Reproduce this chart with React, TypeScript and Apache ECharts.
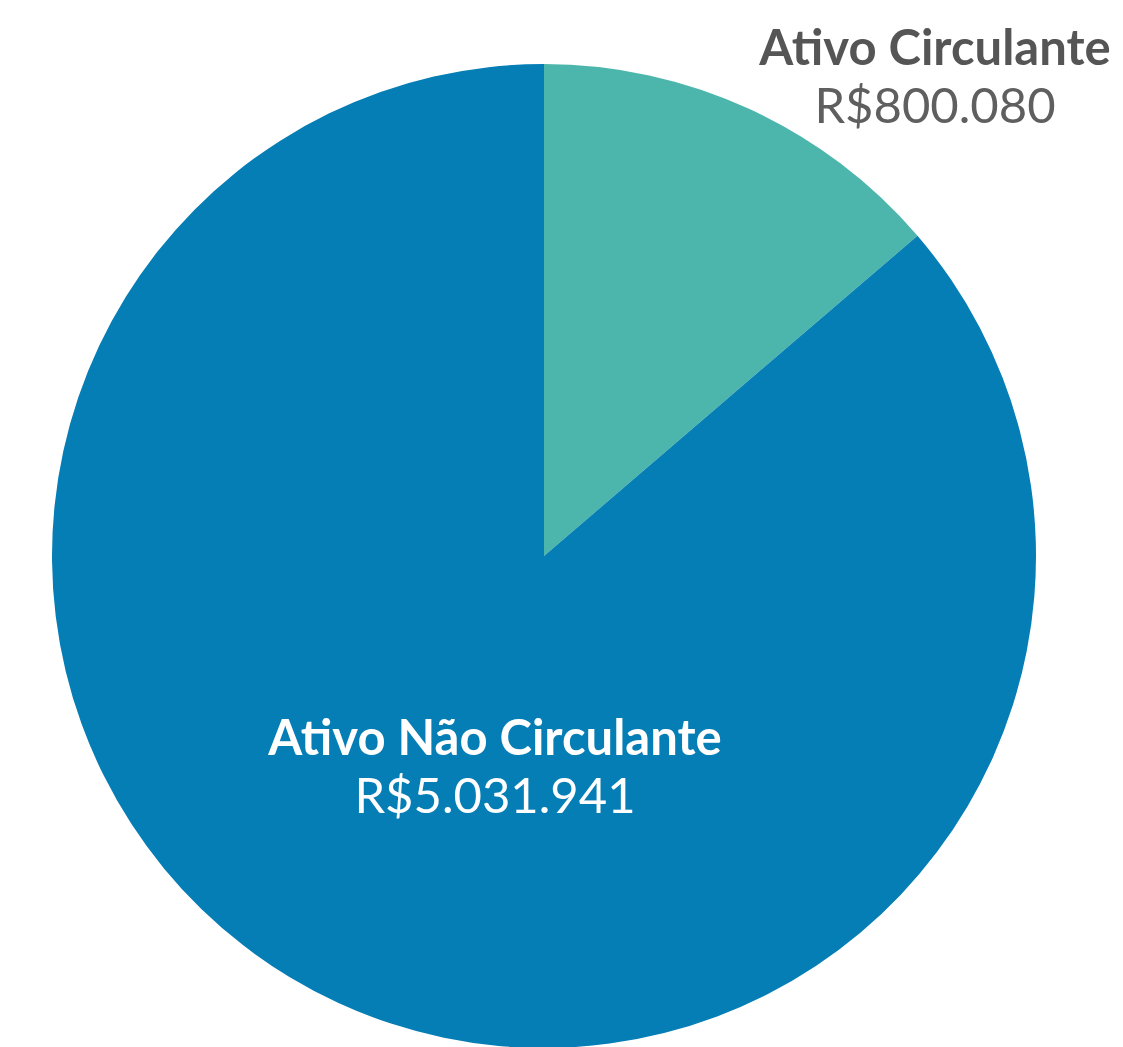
import React, { useEffect, useRef } from "react";
import * as echarts from "echarts";

const categories = ["Ativo Circulante", "Ativo Não Circulante"];
const values = [800080, 5031941];
const valueLabels = ["R$800.080", "R$5.031.941"];
const colors = ["#4DB6AC", "#057DB5"];

const W = 1123;
const H = 1047;
const CX = 544;
const CY = 556;
const R = 492;
// label anchor offsets from pie centre
const labelOffsets = [
  [391, -481],
  [-49, 209],
];

export default function App() {
  const ref = useRef<HTMLDivElement>(null);
  useEffect(() => {
    if (!ref.current) return;
    const chart = echarts.init(ref.current, undefined, { renderer: "svg" });
    chart.setOption({
      animation: false,
      backgroundColor: "#ffffff",
      series: [
        {
          type: "pie",
          center: [CX, CY],
          radius: R,
          startAngle: 90,
          clockwise: true,
          avoidLabelOverlap: false,
          itemStyle: { borderWidth: 0 },
          labelLine: { show: false },
          data: categories.map((name, i) => ({
            name,
            value: values[i],
            itemStyle: { color: colors[i] },
            label: {
              show: true,
              position: i === 0 ? "outside" : "inside",
              formatter: () => `{n|${name}}\n{v|${valueLabels[i]}}`,
              rich: {
                n: {
                  fontFamily: "Lato",
                  fontWeight: "bold",
                  fontSize: 49,
                  lineHeight: 58,
                  color: i === 0 ? "#555555" : "#ffffff",
                  align: "center",
                },
                v: {
                  fontFamily: "Lato",
                  fontWeight: "normal",
                  fontSize: 49,
                  lineHeight: 58,
                  color: i === 0 ? "#5f5f5f" : "#ffffff",
                  align: "center",
                },
              },
            },
          })),
          labelLayout: (params: any) => {
            const o = labelOffsets[params.dataIndex];
            return {
              x: CX + o[0],
              y: CY + o[1],
              align: "center",
              verticalAlign: "middle",
            };
          },
        },
      ],
    });
    return () => chart.dispose();
  }, []);
  return (
    <div
      ref={ref}
      style={{ position: "fixed", left: 0, top: 0, width: W, height: H, background: "#fff" }}
    />
  );
}
